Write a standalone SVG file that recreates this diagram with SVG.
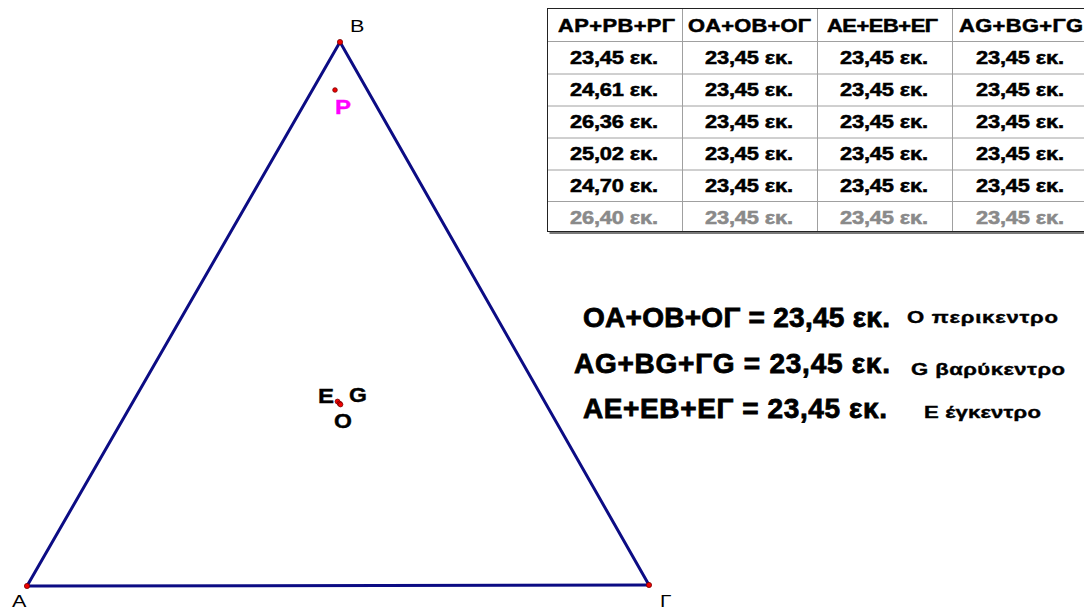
<svg xmlns="http://www.w3.org/2000/svg" width="1084" height="610" viewBox="0 0 1084 610">
<style>
text{font-family:"Liberation Sans",Arial,sans-serif}
.lbl{font-size:16px;fill:#000}
.bl{font-weight:bold;fill:#000;font-size:20px;stroke:#000;stroke-width:0.4}
.th{font-size:17.5px;font-weight:bold;fill:#000;stroke:#000;stroke-width:0.5}
.td text{font-size:17.5px;font-weight:bold;fill:#000;stroke:#000;stroke-width:0.5}
.td text.gr{fill:#8a8a8a;stroke:#8a8a8a}
.big{font-size:28px;font-weight:bold;fill:#000;stroke:#000;stroke-width:0.8}
.desc{font-size:17px;font-weight:bold;fill:#000;stroke:#000;stroke-width:0.4}
.edge{stroke:#0c0c84;stroke-width:3;fill:none;stroke-linecap:round}
.pt{fill:#f00000;stroke:#7a0000;stroke-width:0.8}
.grid{stroke:#a0a0a0;stroke-width:1}
</style>
<rect width="1084" height="610" fill="#fff"/>
<g id="connectors">
<line class="edge" x1="27" y1="586" x2="340" y2="42"/>
<line class="edge" x1="340" y1="42" x2="649" y2="585"/>
<line class="edge" x1="27" y1="586" x2="649" y2="585"/>
</g>
<g id="vertex-A"><circle class="pt" cx="27" cy="586" r="2.6"/><text class="lbl" transform="translate(12,607) scale(1.35,1)" textLength="11" lengthAdjust="spacing">A</text></g>
<g id="vertex-B"><circle class="pt" cx="340" cy="42" r="2.6"/><text class="lbl" transform="translate(350,32) scale(1.35,1)" textLength="10.4" lengthAdjust="spacing">B</text></g>
<g id="vertex-G"><circle class="pt" cx="649" cy="585" r="2.6"/><text class="lbl" transform="translate(660,607) scale(1.3,1)" textLength="8.5" lengthAdjust="spacing">Γ</text></g>
<g id="point-P"><circle class="pt" cx="335" cy="90" r="2.3"/><text transform="translate(335,114) scale(1.2,1)" font-size="20" font-weight="bold" fill="#ff00ff" stroke="#ff00ff" stroke-width="0.4" textLength="12.5" lengthAdjust="spacing">P</text></g>
<g id="point-E"><circle class="pt" cx="337.5" cy="401.5" r="2.4"/><text class="bl" transform="translate(318,402.5) scale(1.2,1)" textLength="12.5" lengthAdjust="spacing">E</text></g>
<g id="point-G"><circle class="pt" cx="339.5" cy="403.5" r="2.4"/><text class="bl" transform="translate(349,402) scale(1.15,1)" textLength="15.2" lengthAdjust="spacing">G</text></g>
<g id="point-O"><circle class="pt" cx="340.5" cy="404.5" r="2.4"/><text class="bl" transform="translate(334,427.5) scale(1.15,1)" textLength="15.2" lengthAdjust="spacing">O</text></g>
<g id="table">
<rect x="549.5" y="10" width="560" height="224" fill="#7a7a7a"/>
<rect x="547.5" y="8.5" width="560" height="223" fill="#fff" stroke="#222" stroke-width="1"/>
<g class="grid">
<line x1="548" y1="41.5" x2="1084" y2="41.5"/>
<line x1="548" y1="74" x2="1084" y2="74"/>
<line x1="548" y1="106" x2="1084" y2="106"/>
<line x1="548" y1="138" x2="1084" y2="138"/>
<line x1="548" y1="170" x2="1084" y2="170"/>
<line x1="548" y1="201.5" x2="1084" y2="201.5"/>
<line x1="682.5" y1="9" x2="682.5" y2="231"/>
<line x1="817.5" y1="9" x2="817.5" y2="231"/>
<line x1="952.5" y1="9" x2="952.5" y2="231"/>
</g>
<text class="th" transform="translate(558,31.7) scale(1.25,1)" textLength="93.6" lengthAdjust="spacing">AP+PB+PΓ</text>
<text class="th" transform="translate(688,31.7) scale(1.25,1)" textLength="98.4" lengthAdjust="spacing">OA+OB+OΓ</text>
<text class="th" transform="translate(827,31.7) scale(1.25,1)" textLength="88.8" lengthAdjust="spacing">AE+EB+EΓ</text>
<text class="th" transform="translate(959,31.7) scale(1.25,1)" textLength="99.2" lengthAdjust="spacing">AG+BG+ΓG</text>
<g class="td">
<text transform="translate(570,64.3) scale(1.25,1)" textLength="70.4" lengthAdjust="spacing">23,45 εκ.</text>
<text transform="translate(705,64.3) scale(1.25,1)" textLength="70.4" lengthAdjust="spacing">23,45 εκ.</text>
<text transform="translate(840,64.3) scale(1.25,1)" textLength="70.4" lengthAdjust="spacing">23,45 εκ.</text>
<text transform="translate(976,64.3) scale(1.25,1)" textLength="70.4" lengthAdjust="spacing">23,45 εκ.</text>
<text transform="translate(570,96.2) scale(1.25,1)" textLength="70.4" lengthAdjust="spacing">24,61 εκ.</text>
<text transform="translate(705,96.2) scale(1.25,1)" textLength="70.4" lengthAdjust="spacing">23,45 εκ.</text>
<text transform="translate(840,96.2) scale(1.25,1)" textLength="70.4" lengthAdjust="spacing">23,45 εκ.</text>
<text transform="translate(976,96.2) scale(1.25,1)" textLength="70.4" lengthAdjust="spacing">23,45 εκ.</text>
<text transform="translate(570,128) scale(1.25,1)" textLength="70.4" lengthAdjust="spacing">26,36 εκ.</text>
<text transform="translate(705,128) scale(1.25,1)" textLength="70.4" lengthAdjust="spacing">23,45 εκ.</text>
<text transform="translate(840,128) scale(1.25,1)" textLength="70.4" lengthAdjust="spacing">23,45 εκ.</text>
<text transform="translate(976,128) scale(1.25,1)" textLength="70.4" lengthAdjust="spacing">23,45 εκ.</text>
<text transform="translate(570,159.9) scale(1.25,1)" textLength="70.4" lengthAdjust="spacing">25,02 εκ.</text>
<text transform="translate(705,159.9) scale(1.25,1)" textLength="70.4" lengthAdjust="spacing">23,45 εκ.</text>
<text transform="translate(840,159.9) scale(1.25,1)" textLength="70.4" lengthAdjust="spacing">23,45 εκ.</text>
<text transform="translate(976,159.9) scale(1.25,1)" textLength="70.4" lengthAdjust="spacing">23,45 εκ.</text>
<text transform="translate(570,191.7) scale(1.25,1)" textLength="70.4" lengthAdjust="spacing">24,70 εκ.</text>
<text transform="translate(705,191.7) scale(1.25,1)" textLength="70.4" lengthAdjust="spacing">23,45 εκ.</text>
<text transform="translate(840,191.7) scale(1.25,1)" textLength="70.4" lengthAdjust="spacing">23,45 εκ.</text>
<text transform="translate(976,191.7) scale(1.25,1)" textLength="70.4" lengthAdjust="spacing">23,45 εκ.</text>
<text class="gr" transform="translate(570,223.6) scale(1.25,1)" textLength="70.4" lengthAdjust="spacing">26,40 εκ.</text>
<text class="gr" transform="translate(705,223.6) scale(1.25,1)" textLength="70.4" lengthAdjust="spacing">23,45 εκ.</text>
<text class="gr" transform="translate(840,223.6) scale(1.25,1)" textLength="70.4" lengthAdjust="spacing">23,45 εκ.</text>
<text class="gr" transform="translate(976,223.6) scale(1.25,1)" textLength="70.4" lengthAdjust="spacing">23,45 εκ.</text>
</g>
</g>
<g id="formulas">
<text class="big" x="583" y="327" textLength="307" lengthAdjust="spacing">OA+OB+OΓ = 23,45 εκ.</text>
<text class="desc" transform="translate(907,323) scale(1.3,1)" textLength="116.2" lengthAdjust="spacing">Ο περικεντρο</text>
<text class="big" x="574" y="373" textLength="316" lengthAdjust="spacing">AG+BG+ΓG = 23,45 εκ.</text>
<text class="desc" transform="translate(911,375) scale(1.3,1)" textLength="118.5" lengthAdjust="spacing">G βαρύκεντρο</text>
<text class="big" x="583" y="418" textLength="304" lengthAdjust="spacing">AE+EB+EΓ = 23,45 εκ.</text>
<text class="desc" transform="translate(924,418) scale(1.3,1)" textLength="90" lengthAdjust="spacing">Ε έγκεντρο</text>
</g>
</svg>
